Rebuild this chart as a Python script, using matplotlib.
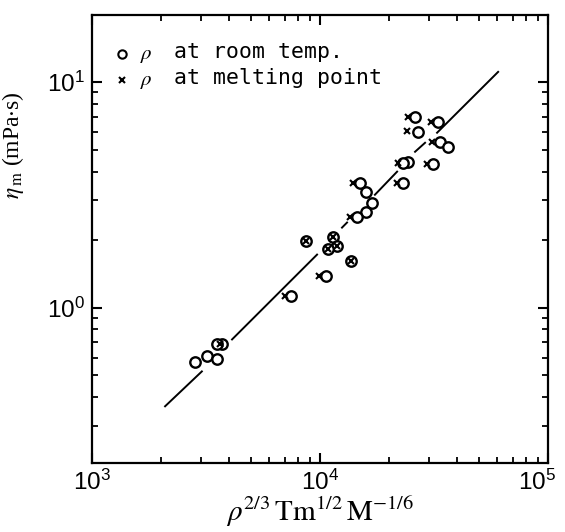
import matplotlib.pyplot as plt
import matplotlib.transforms as mtransforms
import numpy as np

# rho at room temperature (open circles)
room_x = [26100, 32900, 26900, 33600, 36400, 24300, 23100, 31300, 23100, 14960,
          15900, 16900, 15900, 14500, 11400, 11870, 10840, 8680, 13680, 10610,
          7460, 3720, 3530, 3190, 3530, 2830]
room_y = [7.00, 6.65, 6.01, 5.43, 5.16, 4.43, 4.38, 4.34, 3.57, 3.57,
          3.26, 2.91, 2.66, 2.53, 2.06, 1.88, 1.81, 1.98, 1.61, 1.386,
          1.12, 0.686, 0.686, 0.607, 0.589, 0.571]

# rho at melting point (crosses)
melt_x = [24300, 30700, 24100, 31000, 22000, 29400, 21800, 13970, 13540, 9900,
          7010, 8680, 13680, 11400, 11870, 10840, 3650]
melt_y = [7.00, 6.65, 6.07, 5.43, 4.38, 4.34, 3.57, 3.57, 2.53, 1.386,
          1.12, 1.98, 1.61, 2.06, 1.88, 1.81, 0.686]

# fitted line, drawn in pieces (broken where it runs through the points)
line_x = [(2090, 3030), (4110, 9700), (12480, 13130), (17400, 21770), (26100, 28870), (32600, 60400)]
line_y = [(0.365, 0.521), (0.722, 1.716), (2.26, 2.38), (3.16, 4.00), (4.90, 5.37), (5.95, 11.07)]

plt.rcParams['font.family'] = ['Liberation Sans', 'DejaVu Sans']
plt.rcParams['mathtext.fontset'] = 'stix'

fig = plt.figure(figsize=(5.65, 5.32), dpi=100)
ax = fig.add_axes([0.163, 0.130, 0.807, 0.842])

for xs, ys in zip(line_x, line_y):
    ax.plot(xs, ys, 'k-', lw=1.4, zorder=1)

ax.plot(room_x, room_y, 'o', ms=7.5, mfc='white', mec='k', mew=1.7, zorder=2)
ax.plot(melt_x, melt_y, 'x', ms=4, mec='k', mew=1.5, zorder=3)

ax.set_xscale('log')
ax.set_yscale('log')
ax.set_xlim(1e3, 1e5)
ax.set_ylim(0.205, 19.8)

ax.tick_params(which='both', direction='in', top=True, right=True, labelsize=17.5)
ax.tick_params(which='major', length=7, width=1.5, pad=5)
ax.tick_params(which='minor', length=4, width=1.3)
for s in ax.spines.values():
    s.set_linewidth(1.6)

# legend drawn by hand
ax.plot([0.066], [0.913], 'o', ms=6, mfc='white', mec='k', mew=1.5, transform=ax.transAxes)
ax.plot([0.066], [0.855], 'x', ms=4, mec='k', mew=1.5, transform=ax.transAxes)
ax.text(0.104, 0.910, r'$\rho$', transform=ax.transAxes, fontsize=15, va='center')
ax.text(0.180, 0.917, 'at room temp.', transform=ax.transAxes, family='DejaVu Sans Mono',
        fontsize=15.5, va='center')
ax.text(0.104, 0.852, r'$\rho$', transform=ax.transAxes, fontsize=15, va='center')
ax.text(0.180, 0.859, 'at melting point', transform=ax.transAxes, family='DejaVu Sans Mono',
        fontsize=15.5, va='center')

ax.set_xlabel(r'$\rho^{2/3}\,\mathrm{Tm}^{1/2}\,\mathrm{M}^{-1/6}$', fontsize=21, labelpad=0)
ax.set_ylabel(r'$\eta_{\,\mathrm{m}}$ (mPa$\cdot$s)', fontsize=17, family='Liberation Serif')
ax.yaxis.set_label_coords(-0.145, 0.71)

# keep the 10^5 label inside the figure, as in the original
fig.canvas.draw()
shift = mtransforms.ScaledTranslation(-8 / 72, 0, fig.dpi_scale_trans)
for tick in ax.xaxis.get_major_ticks():
    if np.isclose(tick.get_loc(), 1e5):
        tick.label1.set_transform(tick.label1.get_transform() + shift)

fig.savefig('out.png', dpi=100)
